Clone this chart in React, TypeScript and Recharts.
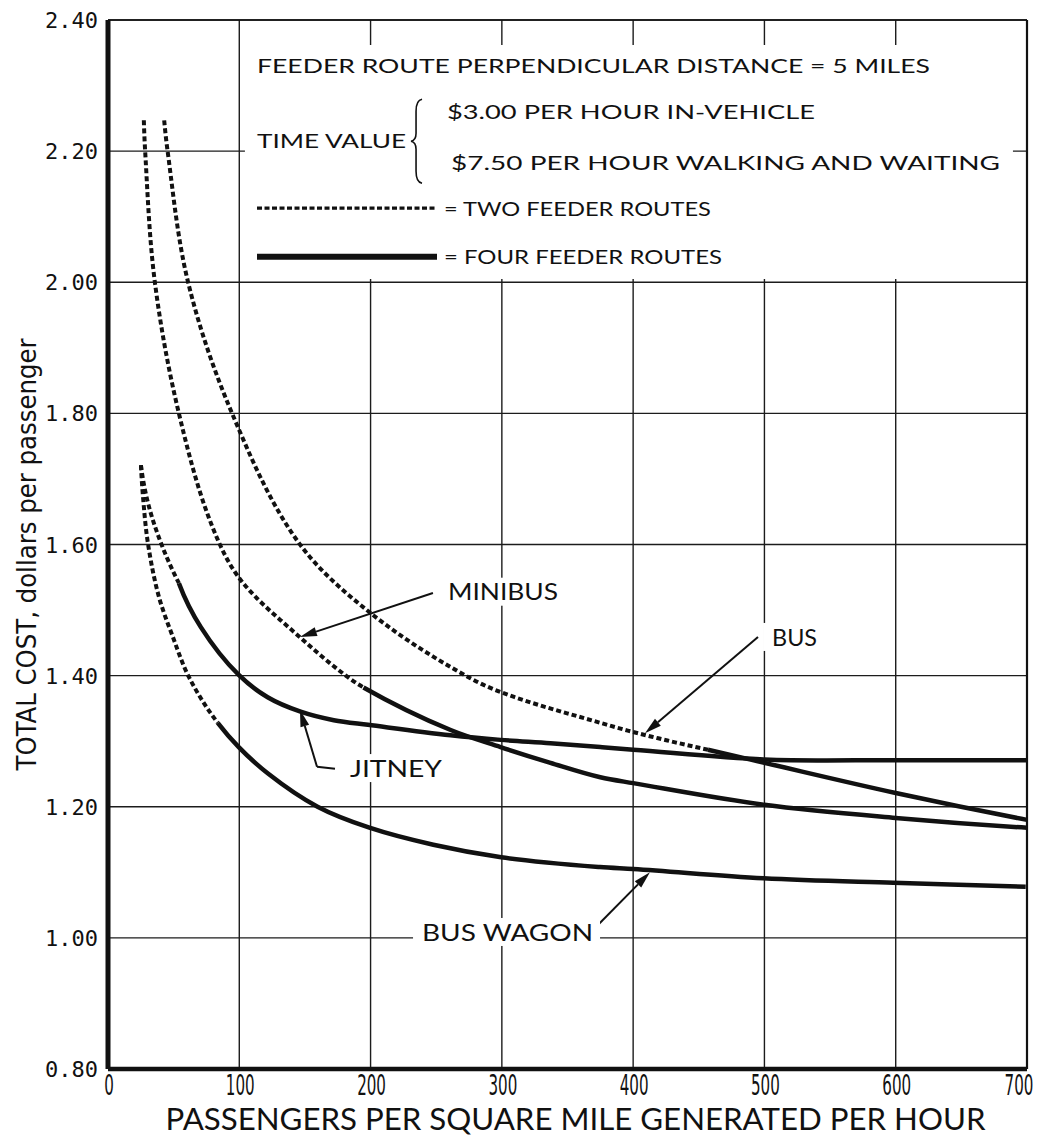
import React from "react";
import {
  LineChart,
  Line,
  XAxis,
  YAxis,
  CartesianGrid,
  ReferenceArea,
  ReferenceLine,
  ReferenceDot,
} from "recharts";

type P = { x: number; y: number };

// ---------- axis ticks & titles ----------
const X_TICKS = [0, 100, 200, 300, 400, 500, 600, 700];
const Y_TICKS = [0.8, 1.0, 1.2, 1.4, 1.6, 1.8, 2.0, 2.2, 2.4];
const X_TITLE = "PASSENGERS PER SQUARE MILE GENERATED PER HOUR";
const Y_TITLE = "TOTAL COST, dollars per passenger";

// ---------- series (passengers / sq mi / hr  ->  $ per passenger) ----------
// dashed = two feeder routes, solid = four feeder routes
const MINIBUS_TWO: P[] = [
  { x: 27.3, y: 2.247 }, { x: 28.3, y: 2.2 }, { x: 35.7, y: 2.0 }, { x: 54, y: 1.8 },
  { x: 80.5, y: 1.622 }, { x: 99.5, y: 1.55 }, { x: 146.5, y: 1.458 }, { x: 182.5, y: 1.398 },
  { x: 194.6, y: 1.382 },
];
const MINIBUS_FOUR: P[] = [
  { x: 194.6, y: 1.382 }, { x: 261, y: 1.317 }, { x: 299, y: 1.291 }, { x: 337, y: 1.267 },
  { x: 375, y: 1.245 }, { x: 400, y: 1.236 }, { x: 500, y: 1.203 }, { x: 600, y: 1.183 },
  { x: 700, y: 1.168 },
];
const BUS_TWO: P[] = [
  { x: 42.8, y: 2.247 }, { x: 45.4, y: 2.2 }, { x: 61, y: 2.0 }, { x: 94.5, y: 1.8 },
  { x: 147, y: 1.598 }, { x: 199, y: 1.497 }, { x: 276, y: 1.396 },
  { x: 299, y: 1.375 }, { x: 375, y: 1.328 }, { x: 400, y: 1.314 }, { x: 457, y: 1.287 },
];
const BUS_FOUR: P[] = [
  { x: 457, y: 1.287 }, { x: 500, y: 1.267 }, { x: 600, y: 1.221 }, { x: 700, y: 1.18 },
];
const JITNEY_TWO: P[] = [
  { x: 25.1, y: 1.721 }, { x: 30.5, y: 1.663 }, { x: 40.4, y: 1.602 }, { x: 54, y: 1.541 },
];
const JITNEY_FOUR: P[] = [
  { x: 54, y: 1.541 }, { x: 70.7, y: 1.474 }, { x: 99.6, y: 1.401 }, { x: 121.6, y: 1.367 },
  { x: 146.7, y: 1.345 }, { x: 172, y: 1.332 }, { x: 198, y: 1.325 }, { x: 261, y: 1.309 },
  { x: 299, y: 1.302 }, { x: 337, y: 1.297 }, { x: 375, y: 1.291 }, { x: 400, y: 1.287 },
  { x: 500, y: 1.272 }, { x: 600, y: 1.271 }, { x: 700, y: 1.271 },
];
const BUS_WAGON_TWO: P[] = [
  { x: 25.1, y: 1.721 }, { x: 26.7, y: 1.672 }, { x: 30.4, y: 1.602 }, { x: 38.8, y: 1.52 },
  { x: 49.4, y: 1.459 }, { x: 61.6, y: 1.398 }, { x: 83.6, y: 1.328 },
];
const BUS_WAGON_FOUR: P[] = [
  { x: 83.6, y: 1.328 }, { x: 99.6, y: 1.291 }, { x: 121.6, y: 1.251 }, { x: 159.6, y: 1.2 },
  { x: 199.1, y: 1.168 }, { x: 247.8, y: 1.142 }, { x: 299.5, y: 1.123 }, { x: 374.7, y: 1.108 },
  { x: 400, y: 1.105 }, { x: 499.3, y: 1.091 }, { x: 598.2, y: 1.084 }, { x: 699, y: 1.078 },
];

const DASHED_SERIES = [MINIBUS_TWO, BUS_TWO, JITNEY_TWO, BUS_WAGON_TWO];
const SOLID_SERIES = [MINIBUS_FOUR, BUS_FOUR, JITNEY_FOUR, BUS_WAGON_FOUR];

// ---------- legend / notes (anchored in data coordinates) ----------
const NOTE_TEXTS = [
  { text: "FEEDER ROUTE PERPENDICULAR DISTANCE = 5 MILES", x: 113.5, y: 2.33, w: 673 },
  { text: "TIME VALUE", x: 113.5, y: 2.215, w: 149 },
  { text: "$3.00 PER HOUR IN-VEHICLE", x: 258.2, y: 2.26, w: 368 },
  { text: "$7.50 PER HOUR WALKING AND WAITING", x: 261.3, y: 2.182, w: 549 },
  { text: "= TWO FEEDER ROUTES", x: 255.9, y: 2.112, w: 267 },
  { text: "= FOUR FEEDER ROUTES", x: 255.9, y: 2.039, w: 278 },
];
const BRACE_AT = { x: 235.4, y: 2.215 };
const LEGEND_DASH = { x1: 113.5, x2: 250.6, y: 2.113 };
const LEGEND_SOLID = { x1: 113.5, x2: 250.6, y: 2.039 };
const LEGEND_BOX = { x1: 104.3, x2: 689.3, y1: 2.005, y2: 2.362 };

const CURVE_LABELS = [
  { text: "MINIBUS", x: 259.0, y: 1.528, w: 110 },
  { text: "BUS", x: 505.8, y: 1.459, w: 45 },
  { text: "JITNEY", x: 184.3, y: 1.259, w: 92 },
  { text: "BUS WAGON", x: 239.2, y: 1.009, w: 171 },
];
const ARROWS = [
  { from: { x: 247.5, y: 1.526 }, to: { x: 146.2, y: 1.459 }, head: true },
  { from: { x: 495.1, y: 1.459 }, to: { x: 409.0, y: 1.312 }, head: true },
  { from: { x: 172.9, y: 1.258 }, to: { x: 159.2, y: 1.261 }, head: false },
  { from: { x: 159.2, y: 1.261 }, to: { x: 146.2, y: 1.348 }, head: true },
  { from: { x: 370.9, y: 1.015 }, to: { x: 412.8, y: 1.1 }, head: true },
];

// ---------- styles ----------
const INK = "#111";
const FONT = "Lato, 'Open Sans', 'DejaVu Sans', sans-serif";
const NARROW = "'Liberation Sans Narrow', 'DejaVu Sans Condensed', 'Liberation Sans', sans-serif";
const MONO = "'DejaVu Sans Mono', 'Liberation Mono', monospace";

const W = 1028;
const H = 1130;

// smooth parametric curve through the points (tangent = bisector of neighbouring chords)
const smoothCurve: any = (context: any) => {
  let pts: number[][] = [];
  const unit = (dx: number, dy: number) => {
    const l = Math.hypot(dx, dy) || 1;
    return [dx / l, dy / l];
  };
  return {
    areaStart() {},
    areaEnd() {},
    lineStart() {
      pts = [];
    },
    point(x: number, y: number) {
      pts.push([+x, +y]);
    },
    lineEnd() {
      const n = pts.length;
      if (!n) return;
      context.moveTo(pts[0][0], pts[0][1]);
      if (n === 1) return;
      if (n === 2) {
        context.lineTo(pts[1][0], pts[1][1]);
        return;
      }
      const tan: number[][] = new Array(n);
      for (let i = 1; i < n - 1; i++) {
        const a = unit(pts[i][0] - pts[i - 1][0], pts[i][1] - pts[i - 1][1]);
        const b = unit(pts[i + 1][0] - pts[i][0], pts[i + 1][1] - pts[i][1]);
        tan[i] = unit(a[0] + b[0], a[1] + b[1]);
      }
      const c0 = unit(pts[1][0] - pts[0][0], pts[1][1] - pts[0][1]);
      const d0 = c0[0] * tan[1][0] + c0[1] * tan[1][1];
      tan[0] = unit(2 * d0 * c0[0] - tan[1][0], 2 * d0 * c0[1] - tan[1][1]);
      const cn = unit(pts[n - 1][0] - pts[n - 2][0], pts[n - 1][1] - pts[n - 2][1]);
      const dn = cn[0] * tan[n - 2][0] + cn[1] * tan[n - 2][1];
      tan[n - 1] = unit(2 * dn * cn[0] - tan[n - 2][0], 2 * dn * cn[1] - tan[n - 2][1]);
      for (let i = 0; i < n - 1; i++) {
        const p = pts[i];
        const q = pts[i + 1];
        const d = Math.hypot(q[0] - p[0], q[1] - p[1]) / 3;
        context.bezierCurveTo(
          p[0] + tan[i][0] * d,
          p[1] + tan[i][1] * d,
          q[0] - tan[i + 1][0] * d,
          q[1] - tan[i + 1][1] * d,
          q[0],
          q[1]
        );
      }
    },
  };
};

const XTick = (props: any) => {
  const { x, y, payload } = props;
  const s = String(payload.value);
  const last = payload.value === X_TICKS[X_TICKS.length - 1];
  const tx = last ? x - 8 : x + 1;
  return (
    <text
      transform={`translate(${tx} ${y + 26}) scale(0.6 1)`}
      x={0}
      y={0}
      textAnchor="middle"
      fontFamily={NARROW}
      fontSize={28}
      fill={INK}
    >
      {s}
    </text>
  );
};

const YTick = (props: any) => {
  const { x, y, payload } = props;
  return (
    <text x={x - 10} y={y + 8} textAnchor="end" fontFamily={MONO} fontSize={22} fill={INK}>
      {Number(payload.value).toFixed(2)}
    </text>
  );
};

const XTitle = (props: any) => {
  const vb = props.viewBox || { x: 100, y: 1061, width: 919 };
  return (
    <text
      x={vb.x + vb.width / 2 + 8}
      y={vb.y + 61}
      textAnchor="middle"
      fontFamily={FONT}
      fontSize={30}
      fill={INK}
      textLength={820}
      lengthAdjust="spacingAndGlyphs"
    >
      {X_TITLE}
    </text>
  );
};

const YTitle = (props: any) => {
  const vb = props.viewBox || { x: 0, y: 12, width: 100, height: 1049 };
  const cx = 28;
  const cy = vb.y + vb.height / 2 + 10;
  return (
    <text
      x={cx}
      y={cy}
      transform={`rotate(-90 ${cx} ${cy})`}
      textAnchor="middle"
      fontFamily={NARROW}
      fontSize={27}
      fill={INK}
      textLength={432}
      lengthAdjust="spacingAndGlyphs"
    >
      {Y_TITLE}
    </text>
  );
};

const makeText =
  (text: string, w: number, size: number, bg: boolean) =>
  (p: any) => {
    const { cx, cy } = p;
    return (
      <g>
        {bg && <rect x={cx - 9} y={cy - 14} width={w + 16} height={28} fill="#fff" />}
        <text
          x={cx}
          y={cy + size * 0.36}
          fontFamily={FONT}
          fontSize={size}
          fill={INK}
          textLength={w}
          lengthAdjust="spacingAndGlyphs"
        >
          {text}
        </text>
      </g>
    );
  };

const Brace = (p: any) => {
  const { cx, cy } = p;
  const d = `M ${cx + 5} ${cy - 42} Q ${cx - 1} ${cy - 41} ${cx - 1} ${cy - 30} L ${cx - 1} ${cy - 8} Q ${cx - 1} ${cy - 1} ${cx - 6} ${cy} Q ${cx - 1} ${cy + 1} ${cx - 1} ${cy + 8} L ${cx - 1} ${cy + 30} Q ${cx - 1} ${cy + 41} ${cx + 5} ${cy + 42}`;
  return <path d={d} fill="none" stroke={INK} strokeWidth={1.6} />;
};

const makeArrow = (head: boolean) => (p: any) => {
  const { x1, y1, x2, y2 } = p;
  const dx = x2 - x1;
  const dy = y2 - y1;
  const len = Math.sqrt(dx * dx + dy * dy) || 1;
  const ux = dx / len;
  const uy = dy / len;
  const hl = 17;
  const hw = 4.5;
  const bx = x2 - ux * hl;
  const by = y2 - uy * hl;
  const pts = `${x2},${y2} ${bx - uy * hw},${by + ux * hw} ${bx + uy * hw},${by - ux * hw}`;
  return (
    <g>
      <line x1={x1} y1={y1} x2={head ? bx : x2} y2={head ? by : y2} stroke={INK} strokeWidth={2} />
      {head && <polygon points={pts} fill={INK} />}
    </g>
  );
};

export default function App() {
  return (
    <div style={{ width: W, height: H, background: "#fff" }}>
      <style>{"html,body{overflow:hidden}"}</style>
      <LineChart width={W} height={H} margin={{ top: 12, right: 9, bottom: 0, left: 0 }}>
        <CartesianGrid stroke="#1c1c1c" strokeWidth={1.4} fill="#fff" />
        <XAxis
          type="number"
          dataKey="x"
          domain={[0, 700]}
          ticks={X_TICKS}
          interval={0}
          height={69}
          tickLine={false}
          tickSize={0}
          tickMargin={0}
          tick={<XTick />}
          axisLine={{ stroke: INK, strokeWidth: 4.5 }}
          label={{ content: XTitle }}
        />
        <YAxis
          type="number"
          dataKey="y"
          domain={[0.8, 2.4]}
          ticks={Y_TICKS}
          interval={0}
          width={100}
          tickLine={false}
          tickSize={0}
          tickMargin={0}
          tick={<YTick />}
          axisLine={{ stroke: INK, strokeWidth: 5 }}
          label={{ content: YTitle }}
        />
        <ReferenceLine x={700} stroke={INK} strokeWidth={2.2} />
        <ReferenceLine y={2.4} stroke={INK} strokeWidth={1.6} />
        <ReferenceArea
          x1={LEGEND_BOX.x1}
          x2={LEGEND_BOX.x2}
          y1={LEGEND_BOX.y1}
          y2={LEGEND_BOX.y2}
          fill="#fff"
          fillOpacity={1}
          stroke="none"
        />
        {NOTE_TEXTS.map((t, i) => (
          <ReferenceDot
            key={"n" + i}
            x={t.x}
            y={t.y}
            r={0}
            shape={makeText(t.text, t.w, 20, false)}
          />
        ))}
        <ReferenceDot x={BRACE_AT.x} y={BRACE_AT.y} r={0} shape={Brace} />
        <ReferenceLine
          segment={[
            { x: LEGEND_DASH.x1, y: LEGEND_DASH.y },
            { x: LEGEND_DASH.x2, y: LEGEND_DASH.y },
          ]}
          stroke={INK}
          strokeWidth={3.2}
          strokeDasharray="5 2.5"
        />
        <ReferenceLine
          segment={[
            { x: LEGEND_SOLID.x1, y: LEGEND_SOLID.y },
            { x: LEGEND_SOLID.x2, y: LEGEND_SOLID.y },
          ]}
          stroke={INK}
          strokeWidth={6}
        />
        {DASHED_SERIES.map((d, i) => (
          <Line
            key={"d" + i}
            data={d}
            dataKey="y"
            type={smoothCurve}
            stroke={INK}
            strokeWidth={4}
            strokeDasharray="5 3"
            dot={false}
            activeDot={false}
            isAnimationActive={false}
          />
        ))}
        {SOLID_SERIES.map((d, i) => (
          <Line
            key={"s" + i}
            data={d}
            dataKey="y"
            type={smoothCurve}
            stroke={INK}
            strokeWidth={4.5}
            dot={false}
            activeDot={false}
            isAnimationActive={false}
          />
        ))}
        {ARROWS.map((a, i) => (
          <ReferenceLine
            key={"a" + i}
            segment={[a.from, a.to]}
            shape={makeArrow(a.head)}
          />
        ))}
        {CURVE_LABELS.map((t, i) => (
          <ReferenceDot
            key={"c" + i}
            x={t.x}
            y={t.y}
            r={0}
            shape={makeText(t.text, t.w, 24, true)}
          />
        ))}
      </LineChart>
    </div>
  );
}
